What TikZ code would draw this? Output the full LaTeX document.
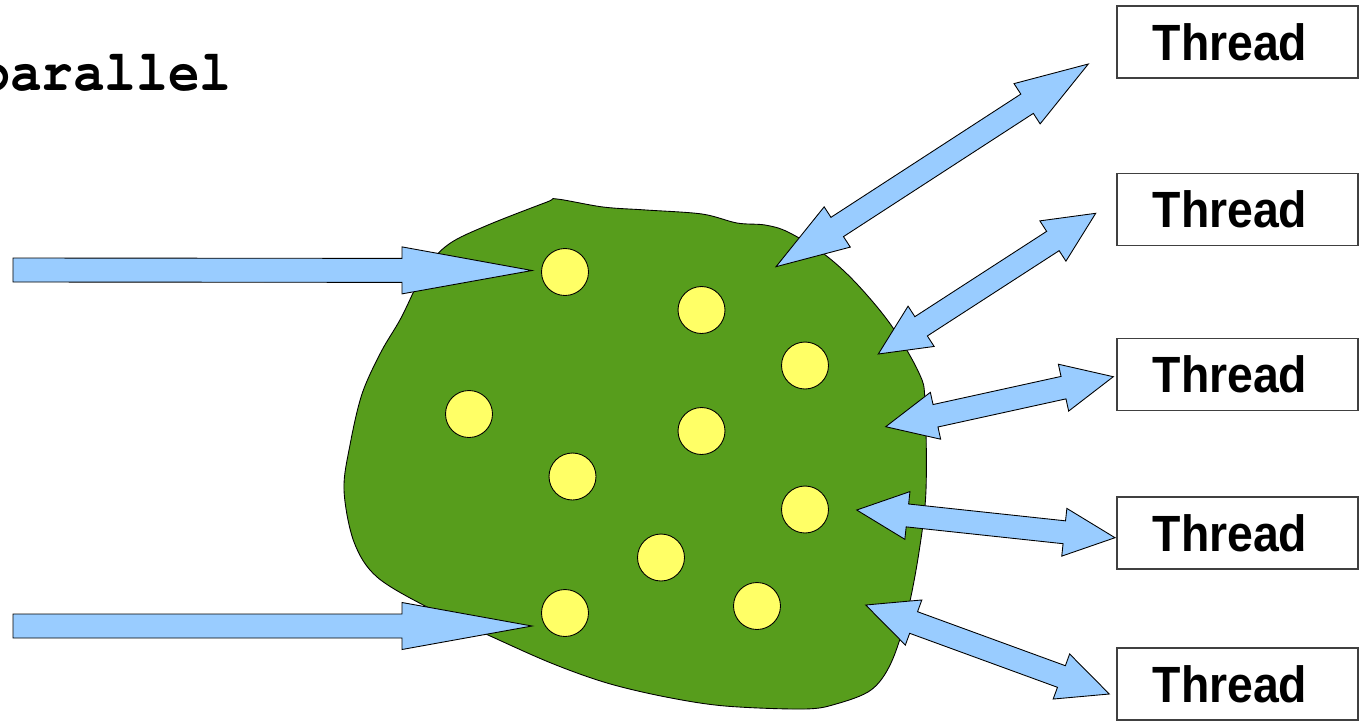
\documentclass[tikz,border=0pt]{standalone}
\usepackage{fontspec}
\setsansfont{Liberation Sans}
\setmonofont{Liberation Mono}
\newfontfamily\cursorfont{TeX Gyre Cursor}
\usepackage{tikz}
\usetikzlibrary{calc}
\definecolor{blobgreen}{HTML}{579D1C}
\definecolor{arrowblue}{HTML}{99CCFF}
\definecolor{seedyellow}{HTML}{FFFF66}
\colorlet{boxgray}{black!75}

% block arrow: #1 tail, #2 tip, #3 half shaft, #4 half head, #5 head length
\newcommand{\blockarrow}[5]{%
  \coordinate (ba-base) at ($(#2)!#5!(#1)$);
  \filldraw[arrowbody] ($(#1)!#3!90:(#2)$) -- ($(ba-base)!#3!90:(#2)$) -- ($(ba-base)!#4!90:(#2)$)
    -- (#2) -- ($(ba-base)!#4!-90:(#2)$) -- ($(ba-base)!#3!-90:(#2)$) -- ($(#1)!#3!-90:(#2)$) -- cycle;
}
% double block arrow between #1 and #2
\newcommand{\twoarrow}[5]{%
  \coordinate (da-one) at ($(#1)!#5!(#2)$);
  \coordinate (da-two) at ($(#2)!#5!(#1)$);
  \filldraw[arrowbody] (#1) -- ($(da-one)!#4!90:(#2)$) -- ($(da-one)!#3!90:(#2)$)
    -- ($(da-two)!#3!90:(#2)$) -- ($(da-two)!#4!90:(#2)$) -- (#2)
    -- ($(da-two)!#4!-90:(#2)$) -- ($(da-two)!#3!-90:(#2)$)
    -- ($(da-one)!#3!-90:(#2)$) -- ($(da-one)!#4!-90:(#2)$) -- cycle;
}
\newcommand{\threadlabel}{\scalebox{0.91}[1]{Thread}\kern0.3cm}

\begin{document}
\begin{tikzpicture}[x=0.02cm,y=-0.02cm,
  arrowbody/.style={fill=arrowblue,draw=black,line width=0.5pt},
  seed/.style={circle,fill=seedyellow,draw=black,line width=0.5pt,minimum size=0.94cm,inner sep=0pt},
  threadbox/.style={draw=boxgray,line width=0.7pt,fill=white,minimum width=4.82cm,minimum height=1.44cm,
    inner sep=0pt,font=\sffamily\bfseries\fontsize{29}{32}\selectfont}]
\clip (0,0) rectangle (1359,721);
% title, cut at the left edge
\node[anchor=base west,inner sep=0pt,font=\cursorfont\bfseries\fontsize{33}{35}\selectfont] (title) at (-22,90) {\scalebox{0.91}[1]{parallel}};
% the blob
\filldraw[fill=blobgreen,draw=black,line width=0.5pt] plot[smooth cycle,tension=0.55] coordinates {
  (557,199) (603,207) (646,210) (702,214) (737,223) (765,225) (788,232) (824,254) (856,283)
  (891,325) (919,373) (925,401) (926,490) (919,552) (907,614) (891,663) (871,690) (836,704)
  (804,709) (725,706) (666,697) (607,683) (551,663) (488,635) (429,608) (377,577) (354,542)
  (344,490) (350,445) (362,394) (381,352) (401,318) (425,270) (449,244) (488,225) (547,202)};
% items inside
\foreach \x/\y [count=\i] in {565/272, 701.5/310, 805/365.5, 469/414, 701.5/431,
  572.5/476.5, 805/509.5, 661/557.5, 757/606, 565/613}
  \node[seed] (s\i) at (\x,\y) {};
% threads
\foreach \y [count=\i] in {42,209.5,374.5,533,684}
  \node[threadbox] (t\i) at (1237.5,\y) {\threadlabel};
% arrows in
\coordinate (feed1) at (13,270);   \coordinate (feed1-tip) at (532,270.5);
\coordinate (feed2) at (13,626);   \coordinate (feed2-tip) at (532,626);
\blockarrow{feed1}{feed1-tip}{0.24cm}{0.47cm}{2.6cm}
\blockarrow{feed2}{feed2-tip}{0.24cm}{0.47cm}{2.6cm}
% arrows between blob and threads
\coordinate (link1-in) at (776,266.7);   \coordinate (link1-out) at (1088.3,64);
\coordinate (link2-in) at (878.3,354);   \coordinate (link2-out) at (1095.7,213.3);
\coordinate (link3-in) at (885.7,426.7); \coordinate (link3-out) at (1113.3,376.7);
\coordinate (link4-in) at (856.7,510);   \coordinate (link4-out) at (1115,537.7);
\coordinate (link5-in) at (865.7,605);   \coordinate (link5-out) at (1109.3,694);
\twoarrow{link1-in}{link1-out}{0.23cm}{0.48cm}{1.46cm}
\foreach \i in {2,...,5}{
  \twoarrow{link\i-in}{link\i-out}{0.23cm}{0.48cm}{1.02cm}
}
\end{tikzpicture}
\end{document}
